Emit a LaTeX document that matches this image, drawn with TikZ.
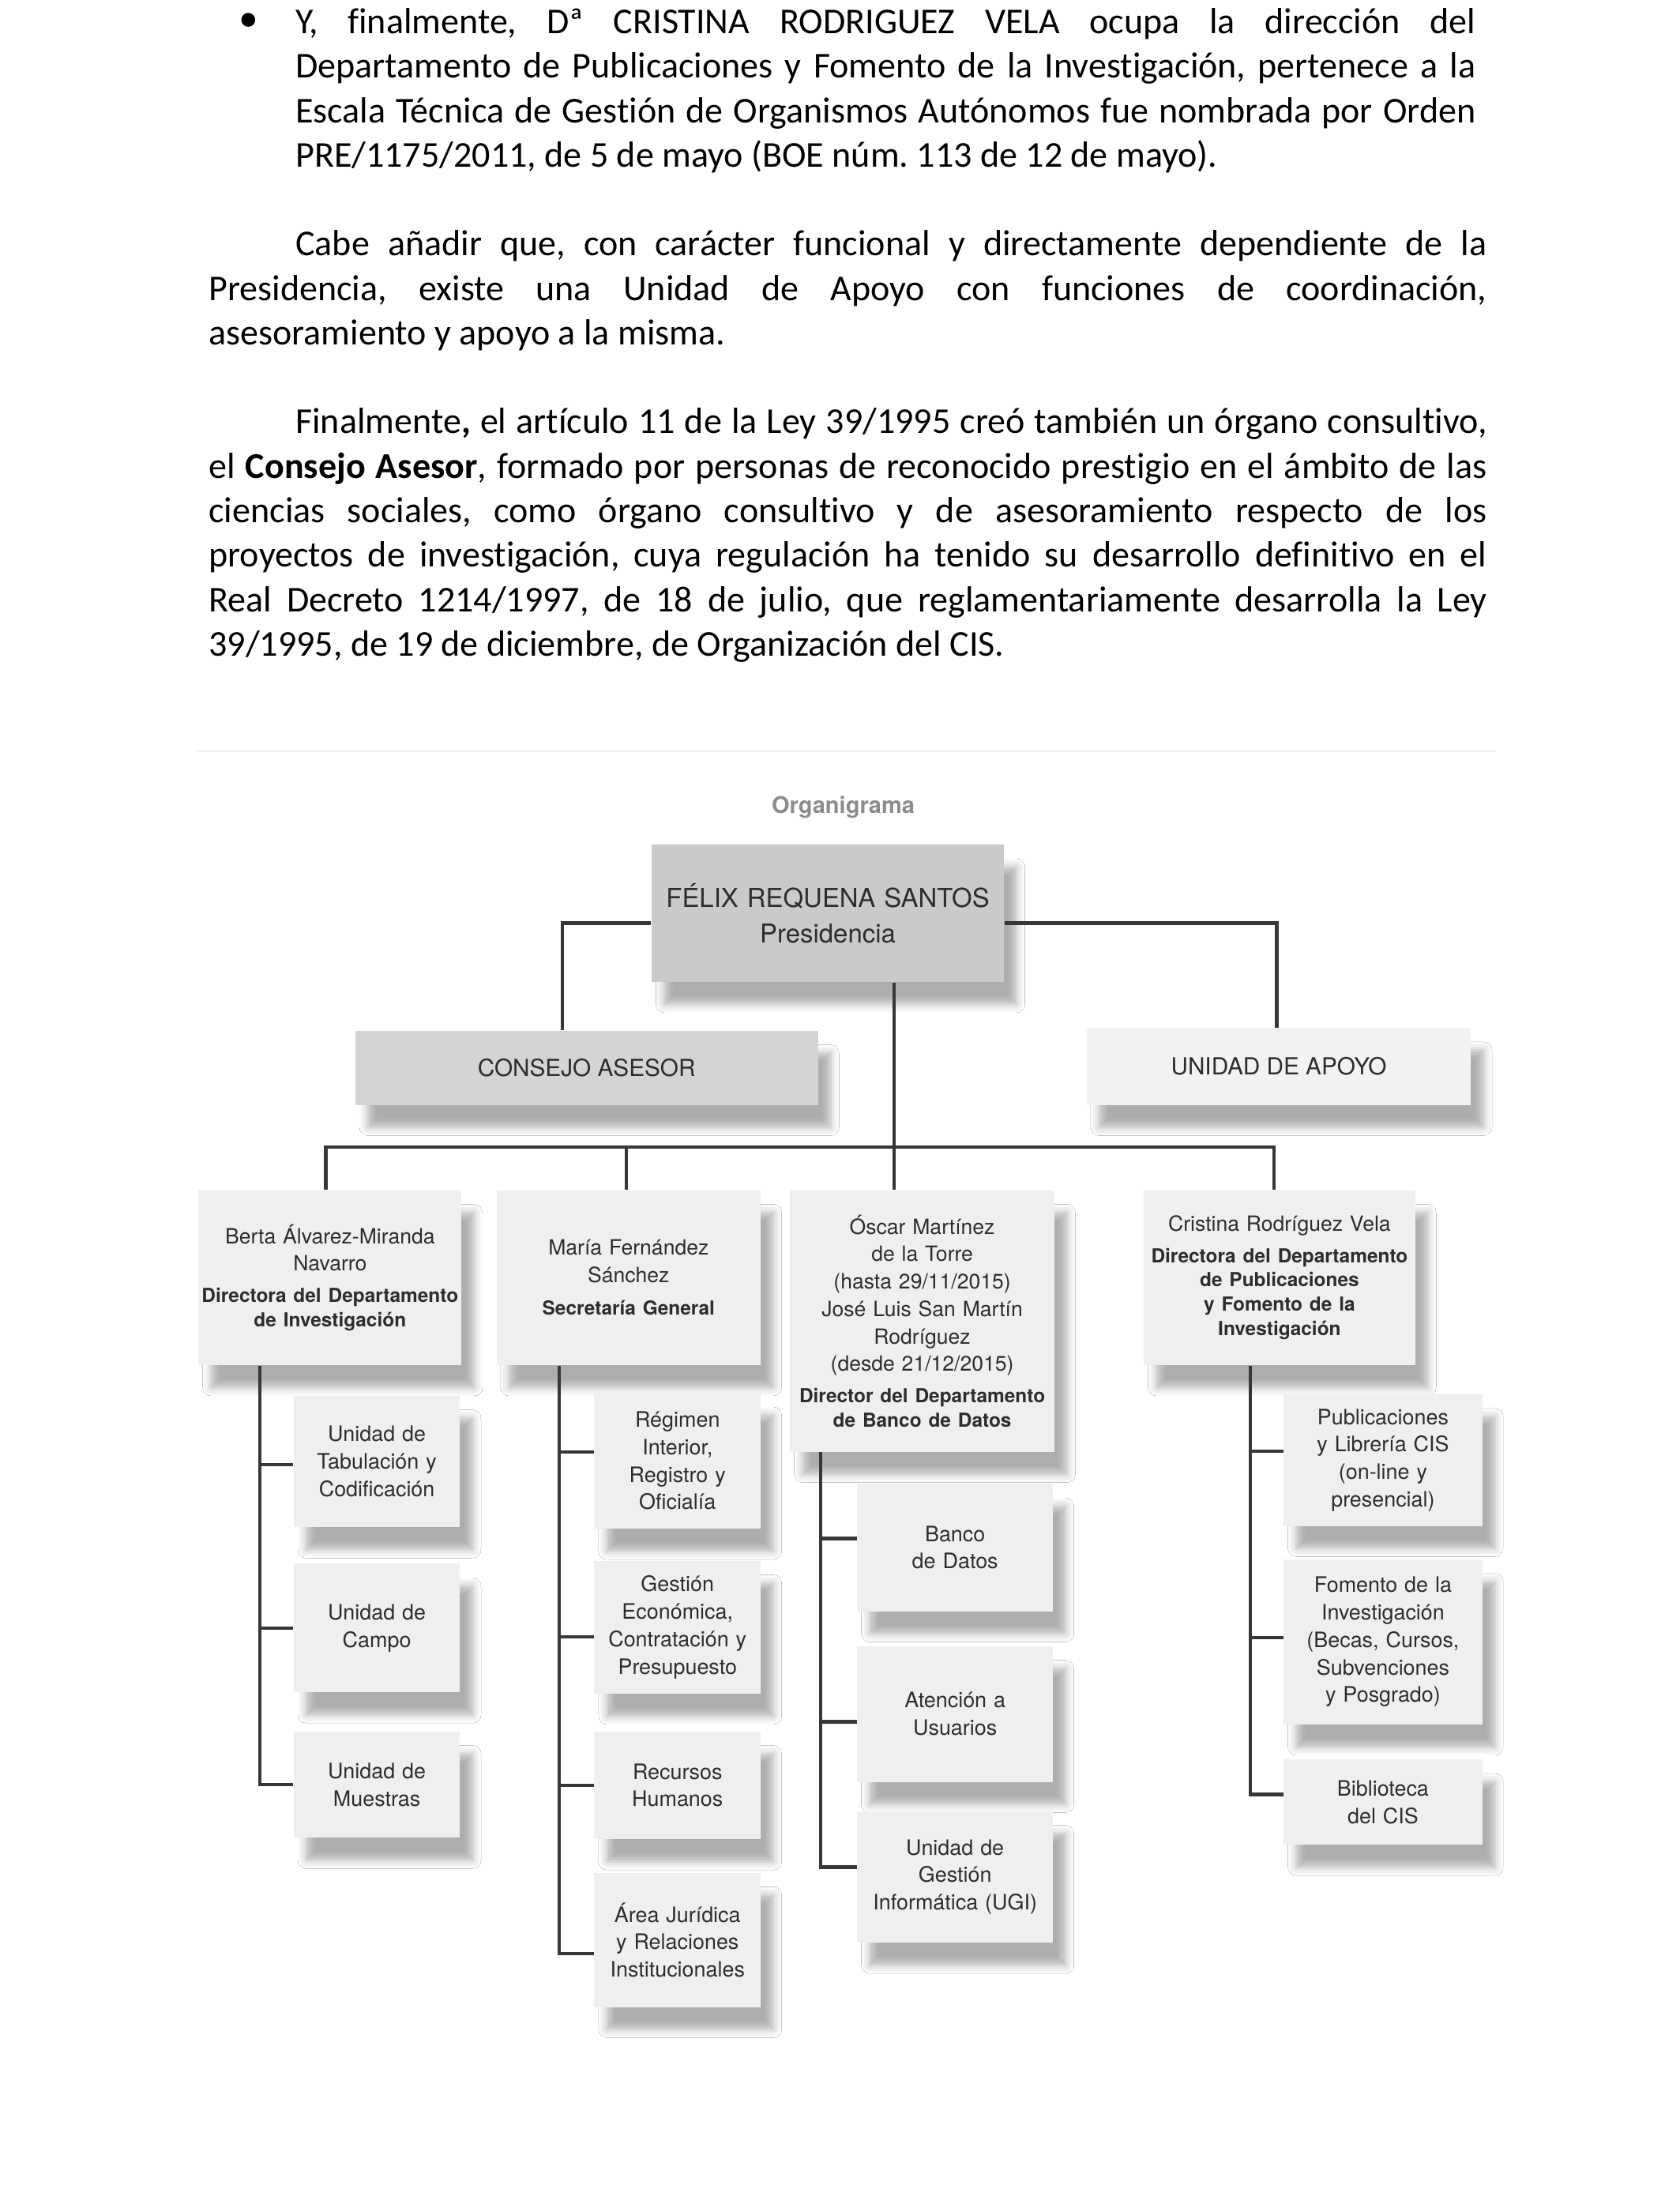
\documentclass[tikz,border=0pt]{standalone}
\usepackage{fontspec}
\setmainfont{Carlito}[Ligatures=NoCommon]
\newfontfamily\chartfont{TeX Gyre Heros}
\usetikzlibrary{shadows.blur}
\definecolor{boxlight}{RGB}{239,239,239}
\definecolor{boxpale}{RGB}{242,242,242}
\definecolor{boxmid}{RGB}{212,212,212}
\definecolor{boxdark}{RGB}{202,202,202}
\definecolor{linegray}{RGB}{55,55,55}
\definecolor{chartink}{RGB}{45,45,45}
\definecolor{titlegray}{RGB}{140,140,140}
\newcommand{\namefont}{\chartfont\fontsize{7.5}{9.8}\selectfont}
\newcommand{\rolefont}{\bfseries\fontsize{6.9}{8.7}\selectfont}
\hyphenpenalty=10000
\exhyphenpenalty=10000
\frenchspacing
\tikzset{
  orgbox/.style={fill=boxlight, inner sep=0pt, text=chartink, align=center,
    blur shadow={shadow xshift=4.5pt, shadow yshift=-8pt, shadow blur radius=3pt, shadow opacity=32}},
  unitbox/.style={orgbox, font=\chartfont\fontsize{7.6}{9.8}\selectfont},
  boxw/.style={minimum width=#1, text width=#1},
  link/.style={draw=linegray, line width=1.2pt},
  para/.style={inner sep=0pt, anchor=base west, align=justify, font=\fontsize{13}{15.9}\selectfont}
}

\begin{document}
\begin{tikzpicture}[x=0.5pt,y=-0.5pt]
  \useasboundingbox (0,0) rectangle (1201,1568);
  \fill[white] (0,0) rectangle (1201,1568);

  % text above the chart
  \node[font=\fontsize{14}{14}\selectfont] (bullet) at (178,16) {•};
  \node[para, text width=422pt] (p1) at (211,24)
    {Y, finalmente, Dª CRISTINA RODRIGUEZ VELA ocupa la dirección del\linebreak
     Departamento de Publicaciones y Fomento de la Investigación, pertenece a la\linebreak
     Escala Técnica de Gestión de Organismos Autónomos fue nombrada por Orden\linebreak
     PRE/1175/2011, de 5 de mayo (BOE núm. 113 de 12 de mayo).};
  \node[para, text width=457pt] (p2) at (149,183)
    {\hspace*{31pt}Cabe añadir que, con carácter funcional y directamente dependiente de la\linebreak
     Presidencia, existe una Unidad de Apoyo con funciones de coordinación,\linebreak
     asesoramiento y apoyo a la misma.};
  \node[para, text width=457pt] (p3) at (149,310)
    {\hspace*{31pt}Finalmente\textbf{,} el artículo 11 de la Ley 39/1995 creó también un órgano consultivo,\linebreak
     el \textbf{Consejo Asesor}, formado por personas de reconocido prestigio en el ámbito de las\linebreak
     ciencias sociales, como órgano consultivo y de asesoramiento respecto de los\linebreak
     proyectos de investigación, cuya regulación ha tenido su desarrollo definitivo en el\linebreak
     Real Decreto 1214/1997, de 18 de julio, que reglamentariamente desarrolla la Ley\linebreak
     39/1995, de 19 de diciembre, de Organización del CIS.};

  % scanned chart: edge and title
  \draw[gray!12, line width=0.6pt] (140,537) -- (1070,537);
  \node[font=\chartfont\bfseries\fontsize{8.2}{10}\selectfont, text=titlegray] (title) at (603,577) {Organigrama};

  % upper level
  \node[orgbox, fill=boxdark, minimum width=126pt, minimum height=49pt, text width=122pt,
    font=\chartfont\fontsize{9.3}{12.5}\selectfont] (pres) at (592,653) {FÉLIX REQUENA SANTOS\\Presidencia};
  \node[orgbox, fill=boxmid, minimum width=165.5pt, minimum height=26.5pt,
    font=\chartfont\fontsize{8.4}{10}\selectfont] (consejo) at (419.5,763.5) {CONSEJO ASESOR};
  \node[orgbox, fill=boxpale, minimum width=137.5pt, minimum height=27.5pt,
    font=\chartfont\fontsize{8.4}{10}\selectfont] (apoyo) at (914.5,762.5) {UNIDAD DE APOYO};

  % departments
  \node[orgbox, boxw=94pt, minimum height=62.5pt, font=\namefont] (dirinv) at (236,913.5)
    {Berta Álvarez-Miranda\\Navarro\par\vspace{2.5pt}{\rolefont Directora del Departamento\\de Investigación\par}};
  \node[orgbox, boxw=94.5pt, minimum height=62.5pt, font=\namefont] (secgen) at (449.5,913.5)
    {María Fernández\\Sánchez\par\vspace{3pt}{\rolefont Secretaría General\par}};
  \node[orgbox, boxw=94.5pt, minimum height=93.5pt, font=\namefont] (dirbd) at (659.5,944.5)
    {Óscar Martínez\\de la Torre\\(hasta 29/11/2015)\\José Luis San Martín\\Rodríguez\\(desde 21/12/2015)\par
     \vspace{2.5pt}{\rolefont Director del Departamento\\de Banco de Datos\par}};
  \node[orgbox, boxw=97pt, minimum height=62.5pt, font=\namefont] (dirpub) at (915,913.5)
    {Cristina Rodríguez Vela\par\vspace{2.5pt}{\rolefont Directora del Departamento\\de Publicaciones\\y Fomento de la\\Investigación\par}};

  % units
  \node[unitbox, boxw=59.5pt, minimum height=47pt] (tab) at (269.5,1045) {Unidad de\\Tabulación y\\Codificación};
  \node[unitbox, boxw=59.5pt, minimum height=46pt] (campo) at (269.5,1164) {Unidad de\\Campo};
  \node[unitbox, boxw=59.5pt, minimum height=38pt] (muestras) at (269.5,1276) {Unidad de\\Muestras};

  \node[unitbox, boxw=59.5pt, minimum height=48.5pt] (regimen) at (484.5,1044.5) {Régimen\\Interior,\\Registro y\\Oficialía};
  \node[unitbox, boxw=59.5pt, minimum height=47.5pt] (gestion) at (484.5,1163.5) {Gestión\\Económica,\\Contratación y\\Presupuesto};
  \node[unitbox, boxw=59.5pt, minimum height=38.5pt] (rrhh) at (484.5,1276.5) {Recursos\\Humanos};
  \node[unitbox, boxw=59.5pt, minimum height=48pt] (juridica) at (484.5,1387) {Área Jurídica\\y Relaciones\\Institucionales};

  \node[unitbox, boxw=70pt, minimum height=45.5pt] (banco) at (683,1106.5) {Banco\\de Datos};
  \node[unitbox, boxw=70pt, minimum height=48.5pt] (atencion) at (683,1225.5) {Atención a\\Usuarios};
  \node[unitbox, boxw=70pt, minimum height=47pt] (ugi) at (683,1342) {Unidad de\\Gestión\\Informática (UGI)};

  \node[unitbox, boxw=71pt, minimum height=47pt] (publi) at (989,1044) {Publicaciones\\y Librería CIS\\(on-line y\\presencial)};
  \node[unitbox, boxw=71pt, minimum height=59pt] (fomento) at (989,1174) {Fomento de la\\Investigación\\(Becas, Cursos,\\Subvenciones\\y Posgrado)};
  \node[unitbox, boxw=71pt, minimum height=30.5pt] (biblio) at (989,1288.5) {Biblioteca\\del CIS};

  % links from the presidency
  \draw[link] ([yshift=-3.5pt]pres.west) -| ([xshift=-8.75pt]consejo.north);
  \draw[link] ([yshift=-3.5pt]pres.east) -| ([xshift=-0.75pt]apoyo.north);
  \draw[link] ([xshift=23.75pt]pres.south) -- ([xshift=23.75pt]pres.south |- dirbd.north);
  \coordinate (busL) at (233,820);
  \coordinate (busR) at (911,820);
  \draw[link] (busL |- dirinv.north) -- (busL) -- (busR) -- (busR |- dirpub.north);
  \draw[link] ([xshift=-0.75pt]secgen.north) -- ([xshift=-0.75pt]secgen.north |- busL);

  % department spines
  \coordinate (s1) at ([xshift=-25pt]dirinv.south);
  \coordinate (s2) at ([xshift=-24.75pt]secgen.south);
  \coordinate (s3) at ([xshift=-36.25pt]dirbd.south);
  \coordinate (s4) at ([xshift=-10.5pt]dirpub.south);
  \draw[link] (s1) |- (muestras.west);
  \draw[link] (s2) |- ([yshift=-5pt]juridica.west);
  \draw[link] (s3) |- ([yshift=3.5pt]ugi.west);
  \draw[link] (s4) |- ([yshift=2.75pt]biblio.west);
  \foreach \b/\dy in {tab/-1, campo/0}
    \draw[link] ([yshift=\dy pt]\b.west) -- ([yshift=\dy pt]\b.west -| s1);
  \foreach \b/\dy in {regimen/3.25, gestion/-3.5, rrhh/0}
    \draw[link] ([yshift=\dy pt]\b.west) -- ([yshift=\dy pt]\b.west -| s2);
  \foreach \b/\dy in {banco/3.25, atencion/-2.75}
    \draw[link] ([yshift=\dy pt]\b.west) -- ([yshift=\dy pt]\b.west -| s3);
  \foreach \b/\dy in {publi/3.25, fomento/1.5}
    \draw[link] ([yshift=\dy pt]\b.west) -- ([yshift=\dy pt]\b.west -| s4);
\end{tikzpicture}
\end{document}
